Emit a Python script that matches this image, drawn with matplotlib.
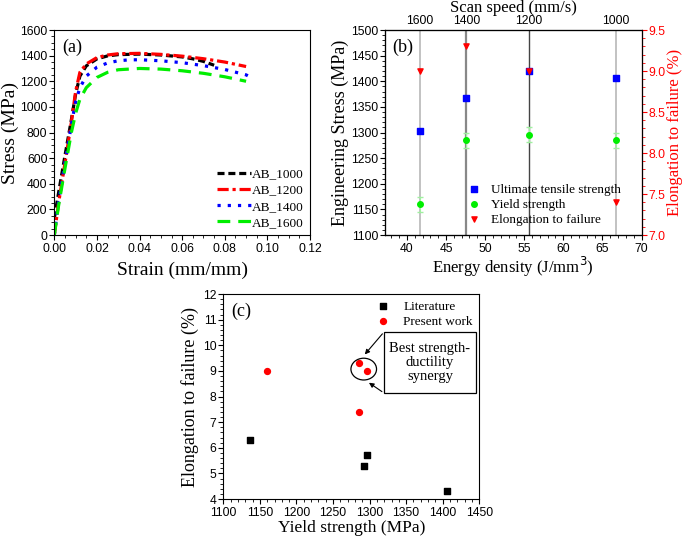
import matplotlib.pyplot as plt
from matplotlib.patches import Ellipse, Rectangle

plt.rcParams['font.family'] = 'Liberation Sans'
plt.rcParams['xtick.labelsize'] = 8.7
plt.rcParams['ytick.labelsize'] = 8.7
plt.rcParams['xtick.major.size'] = 3.5
plt.rcParams['ytick.major.size'] = 3.5
plt.rcParams['xtick.minor.size'] = 2
plt.rcParams['ytick.minor.size'] = 2
plt.rcParams['xtick.major.pad'] = 2
plt.rcParams['ytick.major.pad'] = 1.5
SERIF = 'Liberation Serif'

# --- (a) stress-strain curves ---
strain_1000 = [0, 0.002, 0.005, 0.008, 0.010, 0.012, 0.015, 0.02, 0.025, 0.03, 0.04, 0.05, 0.06, 0.065, 0.07, 0.075]
stress_1000 = [130, 330, 620, 900, 1100, 1240, 1320, 1375, 1398, 1408, 1412, 1405, 1390, 1375, 1355, 1325]
strain_1200 = [0, 0.002, 0.005, 0.008, 0.010, 0.012, 0.015, 0.02, 0.025, 0.03, 0.04, 0.05, 0.06, 0.07, 0.08, 0.09]
stress_1200 = [0, 250, 560, 880, 1120, 1270, 1335, 1385, 1405, 1415, 1418, 1410, 1396, 1376, 1350, 1315]
strain_1400 = [0, 0.002, 0.005, 0.008, 0.010, 0.012, 0.015, 0.02, 0.025, 0.03, 0.035, 0.04, 0.05, 0.06, 0.07, 0.08, 0.09, 0.092]
stress_1400 = [0, 260, 560, 860, 1040, 1150, 1240, 1310, 1343, 1360, 1367, 1368, 1360, 1345, 1322, 1292, 1250, 1232]
strain_1600 = [0, 0.002, 0.005, 0.008, 0.010, 0.012, 0.015, 0.02, 0.025, 0.03, 0.04, 0.05, 0.06, 0.07, 0.08, 0.09]
stress_1600 = [0, 230, 520, 800, 950, 1060, 1150, 1230, 1270, 1290, 1300, 1295, 1282, 1262, 1235, 1200]

# --- (b) properties vs energy density ---
energy = [41.7, 47.6, 55.6, 66.7]
scan_speed = ['1600', '1400', '1200', '1000']
uts = [1302, 1368, 1421, 1407]
ys = [1160, 1285, 1296, 1285]
ys_err = [15, 15, 15, 15]
elong = [9.0, 9.3, 9.0, 7.4]
vline_gray = ['#b8b8b8', '#888888', '#444444', '#b8b8b8']
vline_width = [1.2, 1.6, 1.0, 1.2]

# --- (c) elongation vs yield strength ---
lit_ys = [1137, 1293, 1296, 1406]
lit_el = [6.3, 5.3, 5.7, 4.3]
pw_ys = [1160, 1285, 1296, 1285]
pw_el = [9.0, 9.3, 9.0, 7.4]

fig = plt.figure(figsize=(6.85, 5.4), dpi=100)

# (a)
ax1 = fig.add_axes([0.0793, 0.5648, 0.3733, 0.3796])
ax1.plot(strain_1000, stress_1000, color='black', lw=2.3, ls=(0, (2.2, 1.2)), label='AB_1000')
ax1.plot(strain_1200, stress_1200, color='red', lw=2.3, ls=(0, (3.5, 1.2, 1, 1.2)), label='AB_1200')
ax1.plot(strain_1400, stress_1400, color='blue', lw=2.3, ls=(0, (1, 2.2)), label='AB_1400')
ax1.plot(strain_1600, stress_1600, color='#00ee00', lw=2.3, ls=(0, (4, 2.5)), label='AB_1600')
ax1.set_xlim(0, 0.12)
ax1.set_ylim(0, 1600)
ax1.set_xticks([0, 0.02, 0.04, 0.06, 0.08, 0.10, 0.12])
ax1.set_xticklabels(['0.00', '0.02', '0.04', '0.06', '0.08', '0.10', '0.12'])
ax1.set_yticks(range(0, 1601, 200))
ax1.minorticks_on()
ax1.set_xlabel('Strain (mm/mm)', fontsize=14, family=SERIF, labelpad=5)
ax1.set_ylabel('Stress (MPa)', fontsize=14, family=SERIF, labelpad=1)
ax1.text(0.03, 0.96, '(a)', transform=ax1.transAxes, fontsize=13, family=SERIF, va='top')
ax1.legend(loc='lower right', frameon=False, prop={'family': SERIF, 'size': 9.5},
           handlelength=2.6, handletextpad=0.1, labelspacing=0.3, borderaxespad=0.05)

# (b)
ax2 = fig.add_axes([0.562, 0.5648, 0.3745, 0.3796])
for e, g, w in zip(energy, vline_gray, vline_width):
    ax2.axvline(e, color=g, lw=w, zorder=1)
ax2.scatter(energy, uts, marker='s', color='blue', s=14, zorder=3, label='Ultimate tensile strength')
ax2.errorbar(energy, ys, yerr=ys_err, fmt='none', ecolor='#a0f0a0', elinewidth=0.8, capsize=2, zorder=2)
ax2.scatter(energy, ys, marker='o', color='#00ee00', s=16, zorder=3, label='Yield strength')
ax2.set_xlim(37.2, 70)
ax2.set_ylim(1100, 1500)
ax2.set_xticks(range(40, 71, 5))
ax2.set_yticks(range(1100, 1501, 50))
ax2.minorticks_on()
ax2.set_xlabel('Energy density (J/mm$^3$)', fontsize=12, family=SERIF, labelpad=0)
ax2.set_ylabel('Engineering Stress (MPa)', fontsize=13, family=SERIF, labelpad=1)
ax2.text(0.03, 0.96, '(b)', transform=ax2.transAxes, fontsize=13, family=SERIF, va='top')

ax2r = ax2.twinx()
ax2r.scatter(energy, elong, marker='v', color='red', s=14, zorder=3, label='Elongation to failure')
ax2r.set_ylim(7.0, 9.5)
ax2r.set_yticks([7.0, 7.5, 8.0, 8.5, 9.0, 9.5])
ax2r.set_yticklabels(['7.0', '7.5', '8.0', '8.5', '9.0', '9.5'])
ax2r.minorticks_on()
ax2r.tick_params(axis='y', which='both', colors='red')
ax2r.spines['right'].set_color('red')
ax2r.set_ylabel('Elongation to failure (%)', fontsize=12, family=SERIF, color='red', labelpad=1)

ax2t = ax2.twiny()
ax2t.set_xlim(ax2.get_xlim())
ax2t.set_xticks(energy)
ax2t.set_xticklabels(scan_speed)
ax2t.tick_params(axis='x', length=0, pad=2)
ax2t.set_xlabel('Scan speed (mm/s)', fontsize=12, family=SERIF, labelpad=2)

h1, l1 = ax2.get_legend_handles_labels()
h2, l2 = ax2r.get_legend_handles_labels()
ax2r.legend(h1 + h2, l1 + l2, loc='lower right', bbox_to_anchor=(0.94, 0.02), frameon=False,
            prop={'family': SERIF, 'size': 9.5}, handletextpad=0.3, labelspacing=0.2,
            borderaxespad=0)

# (c)
ax3 = fig.add_axes([0.326, 0.0759, 0.3737, 0.3796])
ax3.scatter(lit_ys, lit_el, marker='s', color='black', s=16, label='Literature')
ax3.scatter(pw_ys, pw_el, marker='o', color='red', s=18, label='Present work')
ax3.set_xlim(1100, 1450)
ax3.set_ylim(4, 12)
ax3.set_xticks(range(1100, 1451, 50))
ax3.set_yticks(range(4, 13))
ax3.minorticks_on()
ax3.set_xlabel('Yield strength (MPa)', fontsize=12.5, family=SERIF, labelpad=1)
ax3.set_ylabel('Elongation to failure (%)', fontsize=13, family=SERIF, labelpad=3)
ax3.text(0.03, 0.96, '(c)', transform=ax3.transAxes, fontsize=13, family=SERIF, va='top')
ax3.legend(loc='upper right', frameon=False, prop={'family': SERIF, 'size': 9.5},
           handletextpad=0.5, labelspacing=0.2, borderaxespad=0.1)
ax3.add_patch(Ellipse((1292, 9.07), 35, 0.85, fill=False, color='black', lw=0.9))
ax3.add_patch(Rectangle((1320, 8.13), 125, 2.4, fill=False, color='black', lw=0.9))
ax3.text(1382.5, 9.33, 'Best strength-\nductility\nsynergy', ha='center', va='center',
         fontsize=10.5, family=SERIF, linespacing=1.1)
ax3.annotate('', xy=(1291, 9.56), xytext=(1320, 10.53),
             arrowprops=dict(arrowstyle='-|>', color='black', lw=0.8, mutation_scale=7))
ax3.annotate('', xy=(1296, 8.6), xytext=(1320, 8.13),
             arrowprops=dict(arrowstyle='-|>', color='black', lw=0.8, mutation_scale=7))

plt.savefig('out.png', dpi=100)
